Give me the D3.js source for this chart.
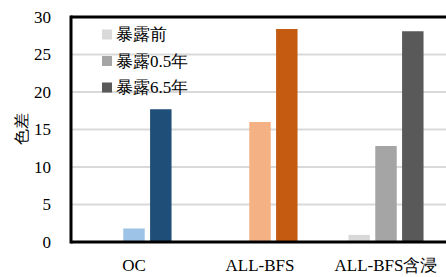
<!DOCTYPE html>
<html>
<head>
<meta charset="utf-8">
<script src="https://cdn.jsdelivr.net/npm/d3@7"></script>
<style>
  body { margin: 0; background: #fff; }
  svg { display: block; }
</style>
</head>
<body>
<script>
// data
var categories = ["OC", "ALL-BFS", "ALL-BFS含浸"];
var seriesNames = ["暴露前", "暴露0.5年", "暴露6.5年"];
var values = [
  [0, 1.8, 17.7],     // OC
  [0, 16.0, 28.4],    // ALL-BFS
  [0.95, 12.8, 28.1]  // ALL-BFS含浸
];
var barColors = [
  ["#9dc3e6", "#9dc3e6", "#1f4e79"],
  ["#f4b183", "#f4b183", "#c55a11"],
  ["#d9d9d9", "#a5a5a5", "#595959"]
];
var legendColors = ["#d9d9d9", "#a5a5a5", "#595959"];
var yTicks = [0, 5, 10, 15, 20, 25, 30];

var width = 446, height = 277;
var margin = {top: 17, left: 71, bottom: 35};

var svg = d3.select("body").append("svg")
  .attr("width", width)
  .attr("height", height)
  .attr("font-family", "Liberation Serif");

var xScale = d3.scaleBand()
  .domain(categories)
  .range([margin.left, 449])
  .paddingInner(0)
  .paddingOuter(0);

var slot = d3.scaleBand()
  .domain([0, 1, 2])
  .range([0, xScale.bandwidth()])
  .paddingInner(0.2)
  .paddingOuter(0.95);

var yScale = d3.scaleLinear()
  .domain([0, 30])
  .range([242, margin.top]);

// grid lines
svg.append("g")
  .selectAll("line")
  .data(yTicks.filter(function(t) { return t > 0 && t < 30; }))
  .enter().append("line")
  .attr("x1", margin.left)
  .attr("x2", width)
  .attr("y1", function(d) { return yScale(d); })
  .attr("y2", function(d) { return yScale(d); })
  .style("stroke", "#d9d9d9")
  .style("stroke-width", 2);

// bars
categories.forEach(function(cat, i) {
  values[i].forEach(function(v, j) {
    if (v <= 0) return;
    svg.append("rect")
      .attr("x", xScale(cat) + slot(j))
      .attr("y", yScale(v))
      .attr("width", slot.bandwidth())
      .attr("height", yScale(0) - yScale(v))
      .style("fill", barColors[i][j]);
  });
});

// y axis
var yAxis = svg.append("g")
  .attr("transform", "translate(" + margin.left + ",0)")
  .call(d3.axisLeft(yScale).tickValues(yTicks).tickSize(0).tickPadding(20));
yAxis.attr("font-family", null).attr("font-size", null);
yAxis.select(".domain").remove();
yAxis.selectAll("text")
  .style("font-size", "17px")
  .style("font-family", "Liberation Serif")
  .attr("fill", "#000");

// x axis labels
var xAxis = svg.append("g")
  .attr("transform", "translate(0," + yScale(0) + ")")
  .call(d3.axisBottom(xScale).tickSize(0).tickPadding(17));
xAxis.attr("font-family", null).attr("font-size", null);
xAxis.select(".domain").remove();
xAxis.selectAll("text")
  .style("font-size", "17px")
  .style("font-family", "Liberation Serif")
  .attr("fill", "#000");

// frame: left, bottom, top
svg.append("line")
  .attr("x1", margin.left).attr("x2", margin.left)
  .attr("y1", yScale(30) - 1.5).attr("y2", yScale(0) + 1.5)
  .style("stroke", "#000").style("stroke-width", 3);
svg.append("line")
  .attr("x1", margin.left).attr("x2", width)
  .attr("y1", yScale(0)).attr("y2", yScale(0))
  .style("stroke", "#000").style("stroke-width", 3);
svg.append("line")
  .attr("x1", margin.left).attr("x2", width)
  .attr("y1", yScale(30)).attr("y2", yScale(30))
  .style("stroke", "#000").style("stroke-width", 3);

// y title
svg.append("text")
  .attr("transform", "translate(27,129) rotate(-90)")
  .attr("text-anchor", "middle")
  .style("font-size", "16px")
  .style("font-family", "Liberation Serif")
  .attr("fill", "#000")
  .text("色差");

// legend
var legendY = [34.5, 61, 87.5];
seriesNames.forEach(function(name, i) {
  svg.append("rect")
    .attr("x", 102)
    .attr("y", legendY[i] - 5)
    .attr("width", 10)
    .attr("height", 10)
    .style("fill", legendColors[i]);
  svg.append("text")
    .attr("x", 116)
    .attr("y", legendY[i])
    .attr("dy", "0.35em")
    .style("font-size", "17px")
    .style("font-family", "Liberation Serif")
    .attr("fill", "#000")
    .text(name);
});
</script>
</body>
</html>
